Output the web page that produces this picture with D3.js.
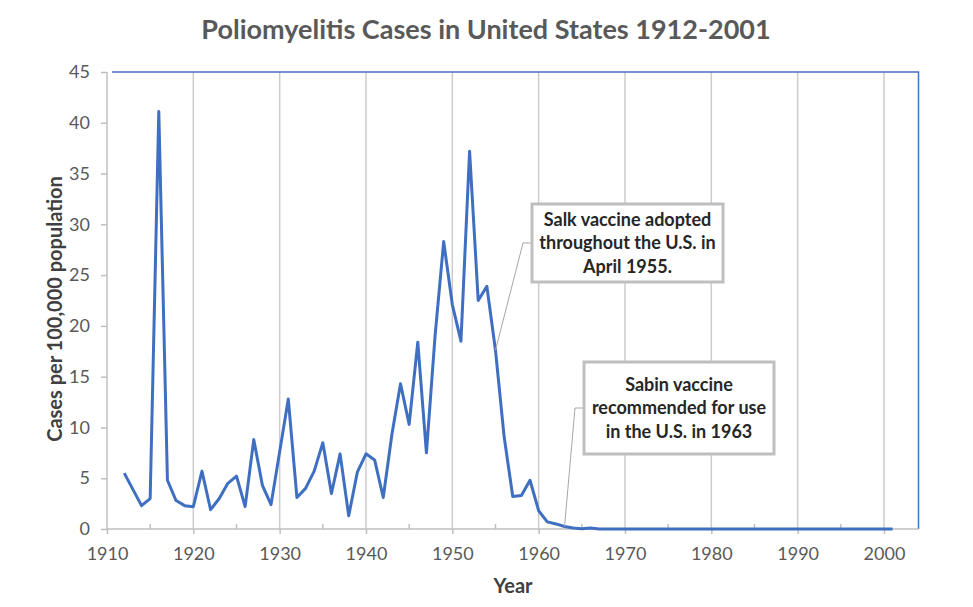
<!DOCTYPE html>
<html>
<head>
<meta charset="utf-8">
<script src="https://cdn.jsdelivr.net/npm/d3@7"></script>
<style>
  body { margin: 0; background: #fff; }
  text { font-family: Lato, "Open Sans", sans-serif; }
</style>
</head>
<body>
<svg id="chart" width="973" height="607"></svg>
<script>
// yearly rates
const years = [1912, 1914, 1915, 1916, 1917, 1918, 1919, 1920, 1921, 1922,
    1923, 1924, 1925, 1926, 1927, 1928, 1929, 1931, 1932, 1933,
    1934, 1935, 1936, 1937, 1938, 1939, 1940, 1941, 1942, 1943,
    1944, 1945, 1946, 1947, 1948, 1949, 1950, 1951, 1952, 1953,
    1954, 1955, 1956, 1957, 1958, 1959, 1960, 1961, 1962, 1963,
    1964, 1965, 1966, 1967, 1968, 1969, 1970, 1971, 1972, 1973,
    1974, 1975, 1976, 1977, 1978, 1979, 1980, 1981, 1982, 1983,
    1984, 1985, 1986, 1987, 1988, 1989, 1990, 1991, 1992, 1993,
    1994, 1995, 1996, 1997, 1998, 1999, 2000, 2001];
const cases = [5.5, 2.3, 3.0, 41.1, 4.8, 2.8, 2.3, 2.2, 5.7, 1.9,
    3.0, 4.5, 5.2, 2.2, 8.8, 4.3, 2.4, 12.8, 3.1, 4.0,
    5.7, 8.5, 3.5, 7.4, 1.3, 5.6, 7.4, 6.8, 3.1, 9.3,
    14.3, 10.3, 18.4, 7.5, 19.0, 28.3, 22.1, 18.5, 37.2, 22.5,
    23.9, 17.6, 9.1, 3.2, 3.3, 4.8, 1.8, 0.7, 0.5, 0.25,
    0.1, 0.03, 0.1, 0, 0, 0, 0, 0, 0, 0,
    0, 0, 0, 0, 0, 0, 0, 0, 0, 0,
    0, 0, 0, 0, 0, 0, 0, 0, 0, 0,
    0, 0, 0, 0, 0, 0, 0, 0];
const xTicks = [1910, 1920, 1930, 1940, 1950, 1960, 1970, 1980, 1990, 2000];
const xMinorTicks = [1915, 1925, 1935, 1945, 1955, 1965, 1975, 1985, 1995];
const yTicks = [0, 5, 10, 15, 20, 25, 30, 35, 40, 45];

const notes = [
    { year: 1955, lines: ["Salk vaccine adopted", "throughout the U.S. in", "April 1955."],
      box: { x: 532, y: 204, w: 191, h: 78 }, elbow: 243 },
    { year: 1963, lines: ["Sabin vaccine", "recommended for use", "in the U.S. in 1963"],
      box: { x: 584, y: 362, w: 190, h: 92 }, elbow: 408 }
];

const svg = d3.select("#chart");
const pLeft = 107, pRight = 918.5, pTop = 72, pBottom = 529;
const grey = "#595959";

const x = d3.scaleLinear().domain([1910, 2004]).range([pLeft, pRight]);
const y = d3.scaleLinear().domain([0, 45]).range([pBottom, pTop]);

// vertical grid lines at the decades
svg.append("g")
    .selectAll("line")
    .data(xTicks.slice(1))
    .join("line")
    .attr("x1", d => x(d)).attr("x2", d => x(d))
    .attr("y1", pTop).attr("y2", pBottom)
    .attr("stroke", "#cccccc")
    .attr("stroke-width", 1.5);

// plot frame, blue on top and right
svg.append("path")
    .attr("d", `M${pLeft + 5} ${pTop} L${pRight} ${pTop} L${pRight} ${pBottom}`)
    .attr("fill", "none")
    .attr("stroke", "#4472c4")
    .attr("stroke-width", 1.5);

// x axis
const xAxis = svg.append("g")
    .attr("transform", `translate(0,${pBottom})`)
    .call(d3.axisBottom(x).tickValues(xTicks).tickFormat(d3.format("d")).tickSize(5).tickPadding(13));
xAxis.select(".domain").attr("stroke", "#bfbfbf").attr("stroke-width", 1.5)
    .attr("d", `M${pLeft},0H${pRight}`);
xAxis.selectAll(".tick line").attr("stroke", "#bfbfbf").attr("stroke-width", 1.5);
xAxis.selectAll(".tick text").attr("fill", grey).style("font-size", "18px");

svg.append("g")
    .selectAll("line")
    .data(xMinorTicks)
    .join("line")
    .attr("x1", d => x(d)).attr("x2", d => x(d))
    .attr("y1", pBottom - 5).attr("y2", pBottom)
    .attr("stroke", "#bfbfbf")
    .attr("stroke-width", 1.5);

// y axis
const yAxis = svg.append("g")
    .attr("transform", `translate(${pLeft},0)`)
    .call(d3.axisLeft(y).tickValues(yTicks).tickSize(6).tickPadding(11));
yAxis.select(".domain").attr("stroke", "#bfbfbf").attr("stroke-width", 1.5)
    .attr("d", `M0,${pTop}V${pBottom}`);
yAxis.selectAll(".tick line").attr("stroke", "#bfbfbf").attr("stroke-width", 1.5);
yAxis.selectAll(".tick text").attr("fill", grey).style("font-size", "18px");

// the series
const line = d3.line()
    .x((d, i) => x(years[i]))
    .y(d => y(d));

svg.append("path")
    .datum(cases)
    .attr("d", line)
    .attr("fill", "none")
    .attr("stroke", "#3f6fc1")
    .attr("stroke-width", 3)
    .attr("stroke-linejoin", "round");

// callouts
notes.forEach(n => {
    const i = years.indexOf(n.year);
    const g = svg.append("g");
    g.append("polyline")
        .attr("points", [
            [n.box.x, n.elbow],
            [n.box.x - 9, n.elbow],
            [x(n.year), y(cases[i])]
        ].join(" "))
        .attr("fill", "none")
        .attr("stroke", "#a6a6a6")
        .attr("stroke-width", 1);
    g.append("rect")
        .attr("x", n.box.x).attr("y", n.box.y)
        .attr("width", n.box.w).attr("height", n.box.h)
        .attr("fill", "#fff")
        .attr("stroke", "#bfbfbf")
        .attr("stroke-width", 3);
    const lh = 23.5;
    const y0 = n.box.y + n.box.h / 2 - lh;
    n.lines.forEach((t, k) => {
        g.append("text")
            .attr("x", n.box.x + n.box.w / 2)
            .attr("y", y0 + k * lh)
            .attr("dy", "0.35em")
            .attr("text-anchor", "middle")
            .attr("fill", "#262626")
            .style("font-size", "18px")
            .style("font-weight", "bold")
            .text(t);
    });
});

// titles
svg.append("text")
    .attr("x", 486).attr("y", 39)
    .attr("text-anchor", "middle")
    .attr("fill", grey)
    .style("font-size", "27px")
    .style("font-weight", "bold")
    .text("Poliomyelitis Cases in United States 1912-2001");

svg.append("text")
    .attr("transform", "translate(55,309) rotate(-90)")
    .attr("text-anchor", "middle")
    .attr("dy", "0.35em")
    .attr("fill", "#404040")
    .style("font-size", "20px")
    .style("font-weight", "bold")
    .text("Cases per 100,000 population");

svg.append("text")
    .attr("x", 513).attr("y", 586)
    .attr("dy", "0.35em")
    .attr("text-anchor", "middle")
    .attr("fill", "#404040")
    .style("font-size", "20px")
    .style("font-weight", "bold")
    .text("Year");
</script>
</body>
</html>
